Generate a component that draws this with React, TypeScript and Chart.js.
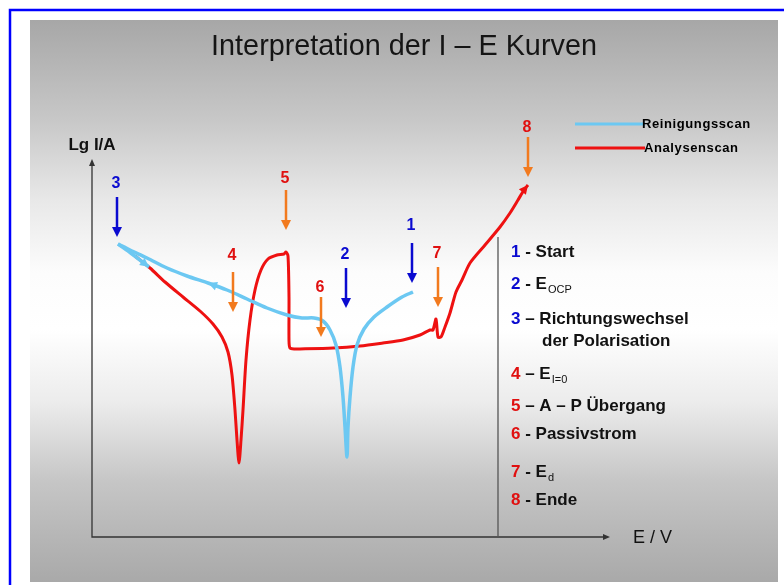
import React, { useEffect, useRef } from "react";
import { Chart, registerables } from "chart.js";
Chart.register(...registerables);

// ---------- texts ----------
const TITLE = "Interpretation der I – E Kurven";
const Y_LABEL = "Lg I/A";
const X_LABEL = "E / V";
const SERIES_NAMES = ["Reinigungsscan", "Analysenscan"];

// ---------- data (E in arbitrary units, lg I in arbitrary units) ----------
// Reinigungsscan: from Start (1) towards negative potentials up to point 3
const cleanE = [321, 310, 295, 282, 272, 265, 261, 258, 256, 255, 253, 251, 248, 244, 238, 231, 222, 210, 195, 175, 155, 135, 116, 95, 75, 55, 38, 26];
const cleanLgI = [245, 240, 230, 220, 208, 192, 170, 140, 110, 80, 110, 140, 170, 192, 207, 216, 219, 219, 222, 229, 238, 247, 254, 261, 269, 279, 287, 293];
// short return after the change of polarisation direction
const returnE = [26, 40, 57];
const returnLgI = [293, 283, 270];
// Analysenscan
const analysisE = [43, 58, 73, 91, 108, 121, 130, 136, 140, 143, 145, 147, 149, 151, 154, 158, 163, 169, 176, 185, 192, 194, 196, 197, 197, 198, 203, 208, 241, 268, 291, 311, 328, 338, 341, 344, 346, 349, 353, 358, 364, 370, 378, 393, 408, 418, 426, 432, 436];
const analysisLgI = [281, 269, 255, 240, 226, 213, 200, 185, 162, 127, 97, 74, 97, 127, 177, 217, 247, 267, 278, 282, 283, 285, 281, 240, 196, 189, 188, 188, 189, 191, 194, 197, 202, 207, 207, 218, 200, 200, 210, 224, 245, 257, 274, 292, 310, 324, 337, 347, 352];

// markers (numbered arrows)
const markerIds = ["1", "2", "3", "4", "5", "6", "7", "8"];
const markerE = [320, 254, 25, 141, 194, 229, 346, 436];
const markerTop = [294, 269, 340, 265, 347, 240, 270, 400];
const markerBottom = [254, 229, 300, 225, 307, 200, 230, 360];
const markerLabelLgI = [311, 282, 353, 281, 358, 249, 283, 409];
const markerScan = [0, 0, 0, 1, 1, 1, 1, 1];

// explanation list
const listNumbers = ["1", "2", "3", "", "4", "5", "6", "7", "8"];
const listTexts = [" - Start", " - E", " – Richtungswechsel", "der Polarisation", " – E", " – A – P Übergang", " - Passivstrom", " - E", " - Ende"];
const listSubs = ["", "OCP", "", "", "I=0", "", "", "d", ""];
const listScan = [0, 0, 0, 0, 1, 1, 1, 1, 1];

// ---------- styles ----------
const CYAN = "#6cc8f2";
const RED = "#ee1111";
const BLUE = "#0a0ad0";
const ORANGE = "#f27a1e";
const NUM_RED = "#e01010";
const FONT = "'Liberation Sans', Arial, sans-serif";

function toPts(xs: number[], ys: number[]) {
  return xs.map((x, i) => ({ x, y: ys[i] }));
}

function arrowHead(ctx: CanvasRenderingContext2D, x: number, y: number, ang: number, len: number, half: number, color: string) {
  ctx.save();
  ctx.translate(x, y);
  ctx.rotate(ang);
  ctx.fillStyle = color;
  ctx.beginPath();
  ctx.moveTo(0, 0);
  ctx.lineTo(-len, -half);
  ctx.lineTo(-len, half);
  ctx.closePath();
  ctx.fill();
  ctx.restore();
}

const decor = {
  id: "decor",
  beforeDraw(chart: any) {
    const ctx: CanvasRenderingContext2D = chart.ctx;
    const W = chart.width, H = chart.height;
    ctx.save();
    ctx.fillStyle = "#ffffff";
    ctx.fillRect(0, 0, W, H);
    // gray panel
    const g = ctx.createLinearGradient(0, 20, 0, 582);
    g.addColorStop(0, "#a7a7a7");
    g.addColorStop(0.18, "#c8c8c8");
    g.addColorStop(0.32, "#e8e8e8");
    g.addColorStop(0.45, "#fcfcfc");
    g.addColorStop(0.55, "#ffffff");
    g.addColorStop(0.68, "#ececec");
    g.addColorStop(0.82, "#c6c6c6");
    g.addColorStop(1, "#a9a9a9");
    ctx.fillStyle = g;
    ctx.fillRect(30, 20, 748, 562);
    // blue frame
    ctx.strokeStyle = "#0000ff";
    ctx.lineWidth = 2.5;
    ctx.beginPath();
    ctx.moveTo(10, H);
    ctx.lineTo(10, 10);
    ctx.lineTo(W, 10);
    ctx.stroke();
    // title (slightly condensed, as in the original)
    ctx.fillStyle = "#151515";
    ctx.font = `30px ${FONT}`;
    ctx.textAlign = "center";
    ctx.textBaseline = "middle";
    ctx.save();
    ctx.translate(404, 47);
    ctx.scale(0.96, 1);
    ctx.fillText(TITLE, 0, 0);
    ctx.restore();

    const xs = chart.scales.x, ys = chart.scales.y;
    const X = (v: number) => xs.getPixelForValue(v);
    const Y = (v: number) => ys.getPixelForValue(v);
    // axes
    ctx.strokeStyle = "#333333";
    ctx.fillStyle = "#333333";
    ctx.lineWidth = 1.3;
    ctx.beginPath();
    ctx.moveTo(X(0), Y(375));
    ctx.lineTo(X(0), Y(0));
    ctx.lineTo(X(515), Y(0));
    ctx.stroke();
    arrowHead(ctx, X(0), Y(378), -Math.PI / 2, 7, 3, "#333333");
    arrowHead(ctx, X(518), Y(0), 0, 7, 3, "#333333");
    // divider
    ctx.strokeStyle = "#555555";
    ctx.lineWidth = 1.3;
    ctx.beginPath();
    ctx.moveTo(X(406), Y(300));
    ctx.lineTo(X(406), Y(0));
    ctx.stroke();
    // axis labels
    ctx.fillStyle = "#111111";
    ctx.font = `bold 17px ${FONT}`;
    ctx.textAlign = "center";
    ctx.fillText(Y_LABEL, X(0), Y(392));
    ctx.font = `18px ${FONT}`;
    ctx.textAlign = "left";
    ctx.fillText(X_LABEL, 633, Y(-1));
    ctx.restore();
  },
  afterDatasetsDraw(chart: any) {
    const ctx: CanvasRenderingContext2D = chart.ctx;
    const xs = chart.scales.x, ys = chart.scales.y;
    const X = (v: number) => xs.getPixelForValue(v);
    const Y = (v: number) => ys.getPixelForValue(v);
    ctx.save();
    // curve arrowheads
    const dirArrow = (ex: number[], ly: number[], i: number, j: number, color: string) => {
      const x1 = X(ex[i]), y1 = Y(ly[i]), x2 = X(ex[j]), y2 = Y(ly[j]);
      arrowHead(ctx, x2, y2, Math.atan2(y2 - y1, x2 - x1), 9, 4.5, color);
    };
    dirArrow(cleanE, cleanLgI, 21, 22, CYAN);
    dirArrow(returnE, returnLgI, 1, 2, CYAN);
    dirArrow(analysisE, analysisLgI, analysisE.length - 2, analysisE.length - 1, RED);

    // numbered marker arrows
    ctx.textAlign = "center";
    ctx.textBaseline = "middle";
    markerIds.forEach((id, i) => {
      const c = markerScan[i] === 0 ? BLUE : ORANGE;
      const x = X(markerE[i]);
      const yt = Y(markerTop[i]);
      const yb = Y(markerBottom[i]);
      ctx.strokeStyle = c;
      ctx.lineWidth = 2.5;
      ctx.beginPath();
      ctx.moveTo(x, yt);
      ctx.lineTo(x, yb - 8);
      ctx.stroke();
      arrowHead(ctx, x, yb, Math.PI / 2, 10, 5, c);
      ctx.fillStyle = markerScan[i] === 0 ? BLUE : NUM_RED;
      ctx.font = `bold 16px ${FONT}`;
      ctx.fillText(id, x - 1, Y(markerLabelLgI[i]));
    });

    // top legend
    const legY = [124, 148];
    const legC = [CYAN, RED];
    SERIES_NAMES.forEach((name, i) => {
      ctx.strokeStyle = legC[i];
      ctx.lineWidth = 3;
      ctx.beginPath();
      ctx.moveTo(575, legY[i]);
      ctx.lineTo(645, legY[i]);
      ctx.stroke();
      ctx.fillStyle = "#000000";
      ctx.font = `bold 13px ${FONT}`;
      (ctx as any).letterSpacing = "0.6px";
      ctx.textAlign = "left";
      ctx.fillText(name, 642 + i * 2, legY[i]);
      (ctx as any).letterSpacing = "0px";
    });

    // explanation list
    const listY = [252, 284, 319, 341, 374, 406, 434, 472, 500];
    listTexts.forEach((t, i) => {
      let x = 511;
      ctx.textAlign = "left";
      ctx.font = `bold 17px ${FONT}`;
      if (listNumbers[i]) {
        ctx.fillStyle = listScan[i] === 0 ? BLUE : NUM_RED;
        ctx.fillText(listNumbers[i], x, listY[i]);
        x += ctx.measureText(listNumbers[i]).width;
        ctx.fillStyle = "#111111";
        ctx.fillText(t, x, listY[i]);
        x += ctx.measureText(t).width;
      } else {
        ctx.fillStyle = "#111111";
        ctx.fillText(t, 542, listY[i]);
      }
      if (listSubs[i]) {
        ctx.font = `11px ${FONT}`;
        ctx.fillText(listSubs[i], x + 1, listY[i] + 6);
      }
    });
    ctx.restore();
  },
};

export default function App() {
  const ref = useRef<HTMLCanvasElement | null>(null);
  useEffect(() => {
    if (!ref.current) return;
    const chart = new Chart(ref.current, {
      type: "scatter",
      data: {
        datasets: [
          { label: SERIES_NAMES[0], data: toPts(cleanE, cleanLgI), showLine: true, borderColor: CYAN, borderWidth: 3.5, pointRadius: 0, tension: 0.3 },
          { label: SERIES_NAMES[0] + " (Rücklauf)", data: toPts(returnE, returnLgI), showLine: true, borderColor: CYAN, borderWidth: 3.5, pointRadius: 0, tension: 0.3 },
          { label: SERIES_NAMES[1], data: toPts(analysisE, analysisLgI), showLine: true, borderColor: RED, borderWidth: 3, pointRadius: 0, tension: 0.25 },
        ],
      },
      options: {
        responsive: false,
        animation: false,
        layout: { padding: { left: 92, right: 92, top: 137, bottom: 48 } },
        plugins: { legend: { display: false }, tooltip: { enabled: false }, title: { display: false } },
        scales: {
          x: { type: "linear", min: 0, max: 600, display: false },
          y: { type: "linear", min: 0, max: 400, display: false },
        },
      },
      plugins: [decor],
    });
    return () => chart.destroy();
  }, []);
  return (
    <div style={{ position: "absolute", left: 0, top: 0, width: 784, height: 585 }}>
      <canvas ref={ref} width={784} height={585} style={{ width: 784, height: 585, display: "block" }} />
    </div>
  );
}
